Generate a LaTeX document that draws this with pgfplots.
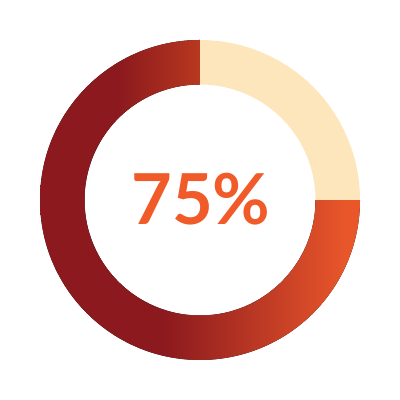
\documentclass[border=0pt]{standalone}
\usepackage{pgfplots}
\usepackage{pgfplotstable}
\pgfplotsset{compat=1.18}
\usepackage{fontspec}
\setmainfont{Lato}
\usepackage{xcolor}

\definecolor{ringRest}{HTML}{FEE6BC}
\definecolor{labelOrange}{HTML}{F15A29}

% one gradient for the whole filled part, so there is no seam:
% upper half  dark 8B191E -> B8381F (x = -82 .. 0)
% lower half  dark 8B191E -> E8562A (x = -37 .. 145)
% path bbox (-160..160) maps to 25bp..75bp
\pgfdeclarefunctionalshading{ringshade}{\pgfpoint{0bp}{0bp}}{\pgfpoint{100bp}{100bp}}{}{
  50 sub 0 gt
  { 50 sub 6.4 mul 82 add 82 div
    dup 0 lt {pop 0} if dup 1 gt {pop 1} if
    dup 0.177 mul 0.545 add exch
    dup 0.122 mul 0.098 add exch
    0.004 mul 0.118 add }
  { 50 sub 6.4 mul 37 add 182 div
    dup 0 lt {pop 0} if dup 1 gt {pop 1} if
    dup 0.365 mul 0.545 add exch
    dup 0.239 mul 0.098 add exch
    0.047 mul 0.118 add }
  ifelse
}

\pgfplotstableread{
part value
done 75
rest 25
}\ringdata

\begin{document}
\begin{tikzpicture}
    \pgfplotstablegetelem{0}{value}\of\ringdata
    \pgfmathsetmacro{\splitangle}{90+\pgfplotsretval*3.6}
    \pgfplotstablegetelem{1}{value}\of\ringdata
    \pgfmathsetmacro{\endangle}{\splitangle+\pgfplotsretval*3.6}
    \begin{axis}[
        width=10cm, height=10cm,
        scale only axis,
        xmin=-200, xmax=200,
        ymin=-200, ymax=200,
        hide axis,
        clip=false
    ]
        % ring segment: #1 style, #2 start angle, #3 end angle
        \newcommand{\ringpiece}[3]{%
            \fill[#1] (axis cs:{160*cos(#2)},{160*sin(#2)})
                arc[start angle=#2, end angle=#3, radius=4cm]
                -- (axis cs:{115.5*cos(#3)},{115.5*sin(#3)})
                arc[start angle=#3, end angle=#2, radius=2.8875cm] -- cycle;}

        \path (axis cs:-200,-200) rectangle (axis cs:200,200);

        % filled 75%
        \ringpiece{shading=ringshade}{90}{\splitangle}
        % remaining 25%
        \ringpiece{ringRest}{\splitangle}{\endangle}

        \node[anchor=base, text=labelOrange, font=\fontsize{50}{60}\selectfont\bfseries]
            at (axis cs:1,-25) {75\%};
    \end{axis}
\end{tikzpicture}
\end{document}
